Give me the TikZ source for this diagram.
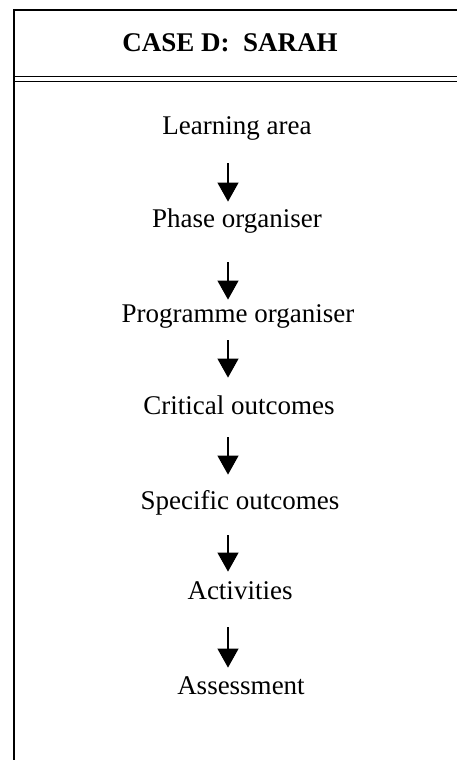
\documentclass[tikz,border=0pt]{standalone}
\usepackage{fontspec}
\setmainfont{Liberation Serif}
\usetikzlibrary{arrows.meta}
\begin{document}
\begin{tikzpicture}[x=1pt,y=-1pt,
  lbl/.style={inner sep=0pt, text height=18pt, text depth=0pt, anchor=south, font=\fontsize{27}{32}\selectfont},
  ttl/.style={lbl, font=\fontsize{27}{32}\selectfont\bfseries},
  arr/.style={line width=1.1pt, -{Triangle[width=21pt,length=19pt]}},
  frame/.style={line width=1.5pt},
  rule/.style={line width=1pt}]
\useasboundingbox (0,0) rectangle (457,760);
% frame
\draw[frame] (14,760) -- (14,10) -- (457,10);
\draw[rule] (14,76) -- (457,76);
\draw[rule] (14,81) -- (457,81);
% title
\node[ttl] (title) at (230,52) {CASE D:\ \ SARAH};
% steps
\node[lbl] (learn) at (237,135) {Learning area};
\node[lbl] (phase) at (237,228) {Phase organiser};
\node[lbl] (prog)  at (238,323) {Programme organiser};
\node[lbl] (crit)  at (239,415) {Critical outcomes};
\node[lbl] (spec)  at (240,510) {Specific outcomes};
\node[lbl] (act)   at (240,600) {Activities};
\node[lbl] (assess) at (241,695) {Assessment};
\coordinate (ax) at (228,0);
\draw[arr, shorten <=28pt, shorten >=8pt] (learn.south -| ax) -- (phase.north -| ax);
\draw[arr, shorten <=34pt, shorten >=5pt] (phase.south -| ax) -- (prog.north -| ax);
\draw[arr, shorten <=17pt, shorten >=19pt] (prog.south -| ax) -- (crit.north -| ax);
\draw[arr, shorten <=22pt, shorten >=17pt] (crit.south -| ax) -- (spec.north -| ax);
\draw[arr, shorten <=25pt, shorten >=10pt] (spec.south -| ax) -- (act.north -| ax);
\draw[arr, shorten <=27pt, shorten >=9pt] (act.south -| ax) -- (assess.north -| ax);
\end{tikzpicture}
\end{document}
